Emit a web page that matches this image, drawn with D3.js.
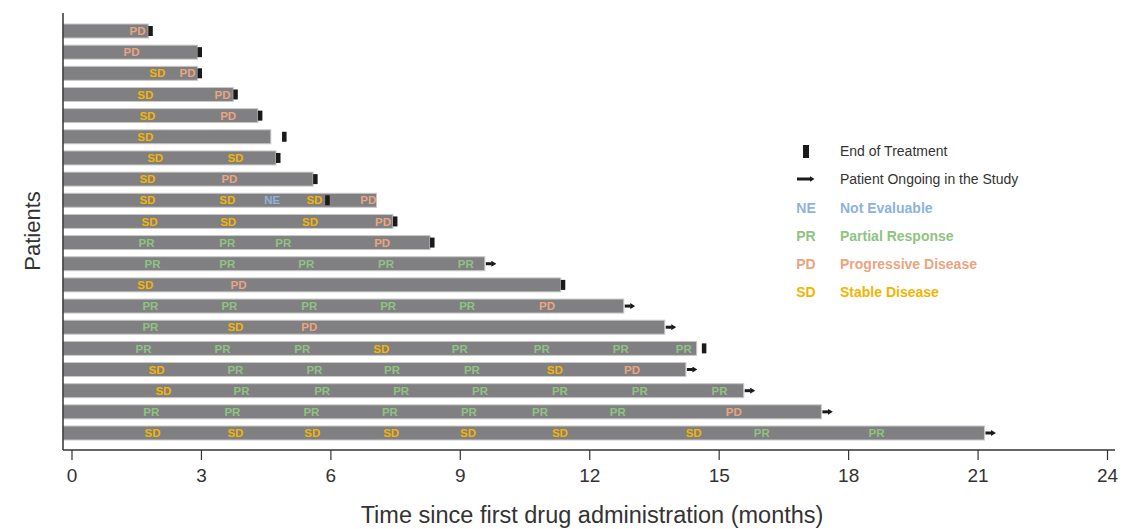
<!DOCTYPE html>
<html>
<head>
<meta charset="utf-8">
<script src="https://cdn.jsdelivr.net/npm/d3@7"></script>
<style>
  html, body { margin: 0; padding: 0; background: #fff; }
  svg { display: block; font-family: "Liberation Sans", Arial, sans-serif; }
</style>
</head>
<body>
<svg id="chart" width="1122" height="529"></svg>
<script>
// ---------------- DATA ----------------
const patients = d3.range(1, 21);
// total time on study (months), top to bottom
const durations = [1.78, 2.92, 2.92, 3.75, 4.32, 4.62, 4.74, 5.60, 7.07, 7.45,
                   8.31, 9.58, 11.34, 12.80, 13.75, 14.49, 14.24, 15.58, 17.38, 21.16];
// time of end of treatment (null = none shown)
const endOfTreatment = [1.78, 2.92, 2.92, 3.75, 4.32, 4.88, 4.74, 5.60, 5.88, 7.45,
                        8.31, null, 11.34, null, null, 14.61, null, null, null, null];
// patient ongoing in the study
const ongoing = [false, false, false, false, false, false, false, false, false, false,
                 false, true, false, true, true, false, true, true, true, true];
// response assessments: codes and times (months)
const responseCodes = [
  ["PD"],
  ["PD"],
  ["SD", "PD"],
  ["SD", "PD"],
  ["SD", "PD"],
  ["SD"],
  ["SD", "SD"],
  ["SD", "PD"],
  ["SD", "SD", "NE", "SD", "PD"],
  ["SD", "SD", "SD", "PD"],
  ["PR", "PR", "PR", "PD"],
  ["PR", "PR", "PR", "PR", "PR"],
  ["SD", "PD"],
  ["PR", "PR", "PR", "PR", "PR", "PD"],
  ["PR", "SD", "PD"],
  ["PR", "PR", "PR", "SD", "PR", "PR", "PR", "PR"],
  ["SD", "PR", "PR", "PR", "PR", "SD", "PD"],
  ["SD", "PR", "PR", "PR", "PR", "PR", "PR", "PR"],
  ["PR", "PR", "PR", "PR", "PR", "PR", "PR", "PD"],
  ["SD", "SD", "SD", "SD", "SD", "SD", "SD", "PR", "PR"]
];
const responseTimes = [
  [1.53],
  [1.39],
  [1.99, 2.69],
  [1.71, 3.50],
  [1.76, 3.63],
  [1.71],
  [1.94, 3.80],
  [1.76, 3.66],
  [1.76, 3.61, 4.65, 5.63, 6.88],
  [1.81, 3.63, 5.53, 7.22],
  [1.74, 3.61, 4.91, 7.20],
  [1.88, 3.61, 5.44, 7.29, 9.14],
  [1.71, 3.87],
  [1.83, 3.66, 5.51, 7.34, 9.17, 11.02],
  [1.83, 3.80, 5.51],
  [1.67, 3.50, 5.35, 7.18, 9.00, 10.90, 12.73, 14.19],
  [1.97, 3.80, 5.63, 7.43, 9.28, 11.20, 12.99],
  [2.13, 3.94, 5.81, 7.64, 9.47, 11.32, 13.17, 15.02],
  [1.85, 3.73, 5.56, 7.38, 9.21, 10.86, 12.66, 15.35],
  [1.88, 3.80, 5.58, 7.41, 9.19, 11.32, 14.42, 16.00, 18.66]
];
const xTicks = [0, 3, 6, 9, 12, 15, 18, 21, 24];
const legendCodes = ["NE", "PR", "PD", "SD"];
const legendNames = ["Not Evaluable", "Partial Response", "Progressive Disease", "Stable Disease"];
const xTitle = "Time since first drug administration (months)";
const yTitle = "Patients";

// ---------------- STYLE ----------------
const colors = { NE: "#8db3dd", PR: "#8fc381", PD: "#eca47f", SD: "#f4b400" };
const barColor = "#808083";
const markColor = "#1a1a1a";

const svg = d3.select("#chart");

// scales
const x = d3.scaleLinear().domain([0, 24]).range([71.5, 1107]);
const axisLeftX = 63;
const y = d3.scalePoint().domain(patients).range([31, 433]);
const barH = 14;

// defs: arrow head
svg.append("defs").append("marker")
  .attr("id", "arrowhead")
  .attr("viewBox", "0 0 10 10")
  .attr("refX", 1).attr("refY", 5)
  .attr("markerUnits", "userSpaceOnUse")
  .attr("markerWidth", 5).attr("markerHeight", 6)
  .attr("preserveAspectRatio", "none")
  .attr("orient", "auto")
  .append("path").attr("d", "M0,0 L10,5 L0,10 z").attr("fill", markColor);

// bars
const rows = svg.append("g").selectAll("g.row")
  .data(patients.map((p, i) => ({ p, i })))
  .join("g").attr("class", "row");

rows.append("rect")
  .attr("x", axisLeftX)
  .attr("y", d => y(d.p) - barH / 2)
  .attr("width", d => x(durations[d.i]) - axisLeftX)
  .attr("height", barH)
  .attr("fill", barColor)
  .attr("stroke", "#c8c8c8")
  .attr("stroke-width", 1);

// response labels
rows.each(function(d) {
  const g = d3.select(this);
  responseCodes[d.i].forEach((code, k) => {
    g.append("text")
      .attr("x", x(responseTimes[d.i][k]))
      .attr("y", y(d.p))
      .attr("dy", "0.36em")
      .attr("text-anchor", "middle")
      .attr("font-size", 11.5)
      .attr("font-weight", "bold")
      .attr("fill", colors[code])
      .text(code);
  });
});

// end of treatment markers
rows.filter(d => endOfTreatment[d.i] !== null)
  .append("rect")
  .attr("x", d => x(endOfTreatment[d.i]))
  .attr("y", d => y(d.p) - 5)
  .attr("width", 4.5)
  .attr("height", 10)
  .attr("fill", markColor);

// ongoing arrows
rows.filter(d => ongoing[d.i])
  .append("line")
  .attr("x1", d => x(durations[d.i]) + 1)
  .attr("x2", d => x(durations[d.i]) + 7)
  .attr("y1", d => y(d.p))
  .attr("y2", d => y(d.p))
  .attr("stroke", markColor)
  .attr("stroke-width", 3)
  .attr("marker-end", "url(#arrowhead)");

// axes
const axisY = 450;
svg.append("line")
  .attr("x1", axisLeftX).attr("x2", axisLeftX)
  .attr("y1", 13).attr("y2", axisY)
  .attr("stroke", "#333").attr("stroke-width", 1.5);

const xAxis = d3.axisBottom(x).tickValues(xTicks).tickSize(10).tickSizeOuter(0).tickPadding(9);
const gx = svg.append("g").attr("transform", `translate(0,${axisY})`).call(xAxis);
gx.select(".domain").remove();
gx.append("line")
  .attr("x1", axisLeftX).attr("x2", 1115)
  .attr("y1", 0).attr("y2", 0)
  .attr("stroke", "#333").attr("stroke-width", 1.5);
gx.selectAll(".tick line").attr("stroke", "#333").attr("stroke-width", 1.2);
gx.selectAll(".tick text")
  .attr("fill", "#333")
  .attr("font-size", 19)
  .attr("font-family", "'Liberation Sans', Arial, sans-serif");

// axis titles
svg.append("text")
  .attr("x", 592).attr("y", 523)
  .attr("text-anchor", "middle")
  .attr("font-size", 23.5)
  .attr("fill", "#333")
  .text(xTitle);

svg.append("text")
  .attr("transform", "translate(40,231) rotate(-90)")
  .attr("text-anchor", "middle")
  .attr("font-size", 22)
  .attr("fill", "#333")
  .text(yTitle);

// legend
const lg = svg.append("g");
const lgSymX = 806, lgTextX = 840;
lg.append("rect").attr("x", lgSymX - 3).attr("y", 145).attr("width", 6).attr("height", 13).attr("fill", markColor);
lg.append("text").attr("x", lgTextX).attr("y", 151).attr("dy", "0.36em")
  .attr("font-size", 14).attr("fill", "#333").text("End of Treatment");
lg.append("line").attr("x1", lgSymX - 9).attr("x2", lgSymX + 4)
  .attr("y1", 179).attr("y2", 179)
  .attr("stroke", markColor).attr("stroke-width", 3)
  .attr("marker-end", "url(#arrowhead)");
lg.append("text").attr("x", lgTextX).attr("y", 179).attr("dy", "0.36em")
  .attr("font-size", 14).attr("fill", "#333").text("Patient Ongoing in the Study");

legendCodes.forEach((c, i) => {
  const yy = 207.5 + i * 28;
  lg.append("text").attr("x", lgSymX).attr("y", yy).attr("dy", "0.36em")
    .attr("text-anchor", "middle").attr("font-size", 14).attr("font-weight", "bold")
    .attr("fill", colors[c]).text(c);
  lg.append("text").attr("x", lgTextX).attr("y", yy).attr("dy", "0.36em")
    .attr("font-size", 14).attr("font-weight", "bold")
    .attr("fill", colors[c]).text(legendNames[i]);
});
</script>
</body>
</html>
